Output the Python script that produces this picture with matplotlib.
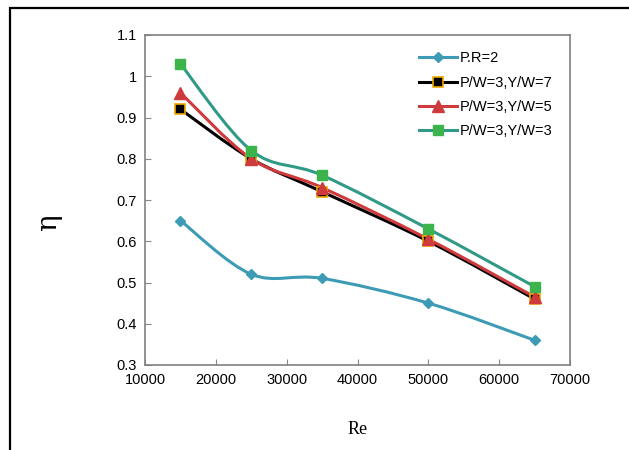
import numpy as np
import matplotlib.pyplot as plt
from matplotlib.path import Path
from matplotlib.patches import PathPatch, Rectangle
from matplotlib.lines import Line2D

plt.rcParams['font.family'] = ['Liberation Sans', 'DejaVu Sans']

re = [15000, 25000, 35000, 50000, 65000]
pr2 = [0.65, 0.52, 0.51, 0.45, 0.36]
yw7 = [0.92, 0.80, 0.72, 0.60, 0.46]
yw5 = [0.96, 0.80, 0.73, 0.605, 0.465]
yw3 = [1.03, 0.82, 0.76, 0.63, 0.49]

labels = ['P.R=2', 'P/W=3,Y/W=7', 'P/W=3,Y/W=5', 'P/W=3,Y/W=3']


def smooth_path(x, y, t=1/6):
    # Bezier smoothing like a spreadsheet "smoothed line"
    x = np.asarray(x, float)
    y = np.asarray(y, float)
    verts = [(x[0], y[0])]
    codes = [Path.MOVETO]
    n = len(x)
    for i in range(n - 1):
        p0 = i - 1 if i > 0 else i
        p3 = i + 2 if i + 2 < n else i + 1
        c1 = (x[i] + (x[i + 1] - x[p0]) * t, y[i] + (y[i + 1] - y[p0]) * t)
        c2 = (x[i + 1] - (x[p3] - x[i]) * t, y[i + 1] - (y[p3] - y[i]) * t)
        verts += [c1, c2, (x[i + 1], y[i + 1])]
        codes += [Path.CURVE4] * 3
    return Path(verts, codes)


fig = plt.figure(figsize=(6.29, 4.5), dpi=100)
ax = fig.add_axes([145 / 629, 1 - 365 / 450, 425 / 629, 330 / 450])

series = [
    (pr2, '#3d9bb5', dict(marker='D', ms=5.5, mfc='#3d9bb5', mec='#3d9bb5')),
    (yw7, '#000000', dict(marker='s', ms=7.5, mfc='#000000', mec='#f0a800', mew=1.2)),
    (yw5, '#cf3a3d', dict(marker='^', ms=8.5, mfc='#cf3a3d', mec='#cf3a3d')),
    (yw3, '#2f9a86', dict(marker='s', ms=7.5, mfc='#3cb44b', mec='#3cb44b')),
]

handles = []
for ys, col, mk in series:
    ax.add_patch(PathPatch(smooth_path(re, ys), fill=False, edgecolor=col, lw=2.2, zorder=2))
    ax.plot(re, ys, linestyle='none', zorder=3, **mk)
    handles.append(Line2D([], [], color=col, lw=2.2, **mk))

ax.set_xlim(10000, 70000)
ax.set_ylim(0.3, 1.1)
ax.set_xticks(range(10000, 70001, 10000))
ax.set_yticks([0.3, 0.4, 0.5, 0.6, 0.7, 0.8, 0.9, 1.0, 1.1])
ax.set_yticklabels(['0.3', '0.4', '0.5', '0.6', '0.7', '0.8', '0.9', '1', '1.1'])
ax.tick_params(direction='in', length=4, color='#888888', labelsize=10.5, pad=6)
for s in ax.spines.values():
    s.set_color('#808080')
    s.set_linewidth(1.2)

ax.set_xlabel('Re', family='Liberation Serif', fontsize=13, labelpad=24)
ax.set_ylabel('η', family='DejaVu Serif', fontsize=20)
ax.yaxis.set_label_coords(-0.195, 0.43)

ax.legend(handles, labels, loc='upper right', frameon=False, fontsize=10.5,
          handlelength=2.6, handletextpad=0.2, labelspacing=0.7,
          bbox_to_anchor=(0.99, 0.99))

# outer frame of the original figure (cut off at right and bottom)
fig.add_artist(Rectangle((10 / 629, -0.1), 1.2, 1 - 8 / 450 + 0.1,
                         transform=fig.transFigure, fill=False, edgecolor='black', lw=1.6))

fig.savefig('out.png', dpi=100)
